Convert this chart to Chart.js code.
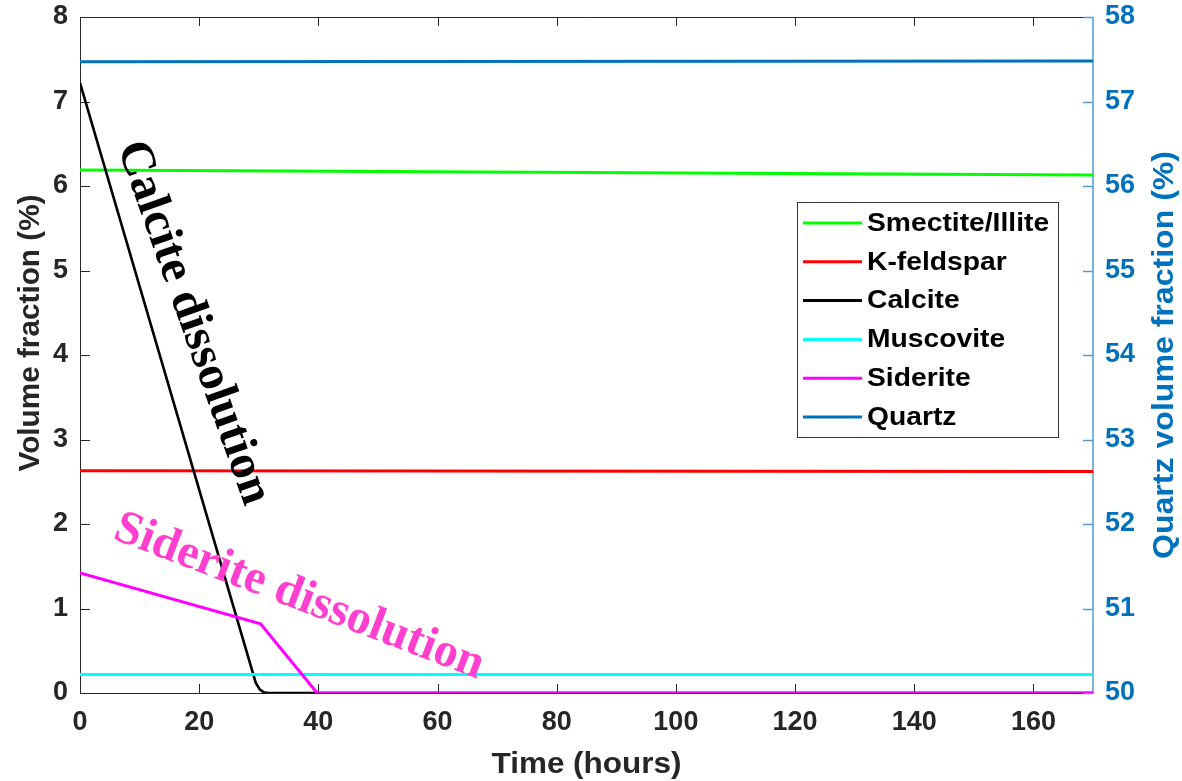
<!DOCTYPE html>
<html>
<head>
<meta charset="utf-8">
<script src="https://cdn.jsdelivr.net/npm/chart.js@4/dist/chart.umd.min.js"></script>
<style>
html,body{margin:0;padding:0;background:#fff;}
#wrap{width:1182px;height:781px;position:relative;}
</style>
</head>
<body>
<div id="wrap"><canvas id="c" width="1182" height="781"></canvas></div>
<script>
// ---- data ----
const seriesNames = ['Smectite/Illite','K-feldspar','Calcite','Muscovite','Siderite','Quartz'];
const seriesColors = ['#00ff00','#ff0000','#000000','#00ffff','#ff00ff','#0072bd'];

const smectiteTime = [0, 170];
const smectiteVol  = [6.19, 6.13];
const kfeldsparTime = [0, 170];
const kfeldsparVol  = [2.63, 2.62];
const calciteTime = [0, 29.5, 30.2, 30.8, 31.5, 170];
const calciteVol  = [7.22, 0.12, 0.04, 0.01, 0, 0];
const muscoviteTime = [0, 170];
const muscoviteVol  = [0.22, 0.22];
const sideriteTime = [0, 30.3, 39.8, 170];
const sideriteVol  = [1.42, 0.82, 0, 0];
const quartzTime = [0, 170];
const quartzVol  = [57.47, 57.48];

const xTicks  = [0, 20, 40, 60, 80, 100, 120, 140, 160];
const yTicks  = [0, 1, 2, 3, 4, 5, 6, 7, 8];
const y1Ticks = [50, 51, 52, 53, 54, 55, 56, 57, 58];

const xTitle = 'Time (hours)';
const yTitle = 'Volume fraction (%)';
const y1Title = 'Quartz volume fraction (%)';
const calciteNote = 'Calcite dissolution';
const sideriteNote = 'Siderite dissolution';

// ---- build ----
function pts(t, v){ return t.map((x,i)=>({x:x, y:v[i]})); }
const seriesData = [
  pts(smectiteTime, smectiteVol),
  pts(kfeldsparTime, kfeldsparVol),
  pts(calciteTime, calciteVol),
  pts(muscoviteTime, muscoviteVol),
  pts(sideriteTime, sideriteVol),
  pts(quartzTime, quartzVol)
];
const widths = [3, 3, 2.6, 3, 3, 3];

const datasets = seriesNames.map((n,i)=>({
  label: n,
  data: seriesData[i],
  borderColor: seriesColors[i],
  backgroundColor: seriesColors[i],
  borderWidth: widths[i],
  pointRadius: 0,
  fill: false,
  tension: 0,
  yAxisID: i === 5 ? 'y1' : 'y',
  order: 10 - i
}));

const SANS = '"Liberation Sans", Arial, sans-serif';
const SERIF = '"Liberation Serif", "Times New Roman", serif';
const AX = '#262626';
const BLUE = '#0072bd';

function fitText(ctx, text, cx, cy, angleDeg, font, color, targetW){
  ctx.save();
  ctx.translate(cx, cy);
  ctx.rotate(angleDeg*Math.PI/180);
  ctx.font = font;
  ctx.fillStyle = color;
  ctx.textAlign = 'center';
  ctx.textBaseline = 'middle';
  const w = ctx.measureText(text).width;
  if (targetW) ctx.scale(targetW/w, 1);
  ctx.fillText(text, 0, 0);
  ctx.restore();
}

const framePlugin = {
  id: 'frame',
  beforeDatasetsDraw(chart){
    const {ctx, chartArea:a, scales} = chart;
    ctx.save();
    ctx.lineWidth = 1;
    ctx.strokeStyle = AX;
    ctx.beginPath();
    ctx.moveTo(a.left+0.5, a.top+0.5); ctx.lineTo(a.left+0.5, a.bottom+0.5);
    ctx.lineTo(a.right, a.bottom+0.5);
    ctx.moveTo(a.left, a.top+0.5); ctx.lineTo(a.right, a.top+0.5);
    scales.x.ticks.forEach(t=>{
      const px = Math.round(scales.x.getPixelForValue(t.value))+0.5;
      ctx.moveTo(px, a.bottom); ctx.lineTo(px, a.bottom-9);
      ctx.moveTo(px, a.top); ctx.lineTo(px, a.top+9);
    });
    scales.y.ticks.forEach(t=>{
      const py = Math.round(scales.y.getPixelForValue(t.value))+0.5;
      ctx.moveTo(a.left, py); ctx.lineTo(a.left+10, py);
    });
    ctx.stroke();
    ctx.strokeStyle = '#4f9ad6';
    ctx.lineWidth = 1.5;
    ctx.beginPath();
    ctx.moveTo(a.right, a.top); ctx.lineTo(a.right, a.bottom+1);
    scales.y1.ticks.forEach(t=>{
      const py = Math.round(scales.y1.getPixelForValue(t.value))+0.5;
      ctx.moveTo(a.right, py); ctx.lineTo(a.right-10, py);
    });
    ctx.stroke();
    ctx.restore();
  },
  afterDraw(chart){
    const {ctx, chartArea:a} = chart;
    fitText(ctx, xTitle, (a.left+a.right)/2, 765, 0, 'bold 29px '+SANS, AX, 190);
    fitText(ctx, yTitle, 31, 333, -90, 'bold 29px '+SANS, AX, 277);
    fitText(ctx, y1Title, 1165, 355, -90, 'bold 30px '+SANS, BLUE, 408);
    const bx = 797, by = 202, bw = 261, bh = 235;
    ctx.save();
    ctx.fillStyle = '#fff';
    ctx.fillRect(bx, by, bw, bh);
    ctx.strokeStyle = '#333';
    ctx.lineWidth = 1;
    ctx.strokeRect(bx+0.5, by+0.5, bw, bh);
    const rowH = 38.8;
    seriesNames.forEach((n,i)=>{
      const y = by + 21 + i*rowH;
      ctx.strokeStyle = seriesColors[i];
      ctx.lineWidth = 3;
      ctx.beginPath(); ctx.moveTo(803, y); ctx.lineTo(862, y); ctx.stroke();
      ctx.font = 'bold 25px '+SANS;
      ctx.fillStyle = '#000';
      ctx.textAlign = 'left';
      ctx.textBaseline = 'middle';
      ctx.save();
      ctx.translate(867, y+1);
      ctx.scale(1.13, 1);
      ctx.fillText(n, 0, 0);
      ctx.restore();
    });
    ctx.restore();
    fitText(ctx, calciteNote, 193, 323, 70.5, 'bold 48px '+SERIF, '#000', 382);
    fitText(ctx, sideriteNote, 299, 597, 21, 'bold 48px '+SERIF, '#ff3fcf', 392);
  }
};

function forceTicks(arr){
  return function(scale){ scale.ticks = arr.map(v=>({value:v})); };
}
function fitV(w){ return function(s){ s.width = w; s.paddingTop = 0; s.paddingBottom = 0; }; }

new Chart(document.getElementById('c'), {
  type: 'line',
  data: { datasets },
  options: {
    responsive: false,
    animation: false,
    devicePixelRatio: 1,
    layout: { padding: { top: 17, left: 0, right: 0, bottom: 0 } },
    plugins: { legend: { display: false }, tooltip: { enabled: false } },
    scales: {
      x: {
        type: 'linear', min: 0, max: 170,
        afterBuildTicks: forceTicks(xTicks),
        afterFit(s){ s.height = 88; s.paddingLeft = 0; s.paddingRight = 0; },
        grid: { display: false, drawTicks: false },
        border: { display: false },
        ticks: { color: AX, font: { family: SANS, size: 27, weight: 'bold' }, padding: 13, maxRotation: 0, autoSkip: false }
      },
      y: {
        type: 'linear', position: 'left', min: 0, max: 8,
        afterBuildTicks: forceTicks(yTicks),
        afterFit: fitV(80),
        grid: { display: false, drawTicks: false },
        border: { display: false },
        ticks: { color: AX, font: { family: SANS, size: 27, weight: 'bold' }, padding: 12, autoSkip: false }
      },
      y1: {
        type: 'linear', position: 'right', min: 50, max: 58,
        afterBuildTicks: forceTicks(y1Ticks),
        afterFit: fitV(89),
        grid: { display: false, drawTicks: false },
        border: { display: false },
        ticks: { color: BLUE, font: { family: SANS, size: 27, weight: 'bold' }, padding: 12, autoSkip: false }
      }
    }
  },
  plugins: [framePlugin]
});
</script>
</body>
</html>
